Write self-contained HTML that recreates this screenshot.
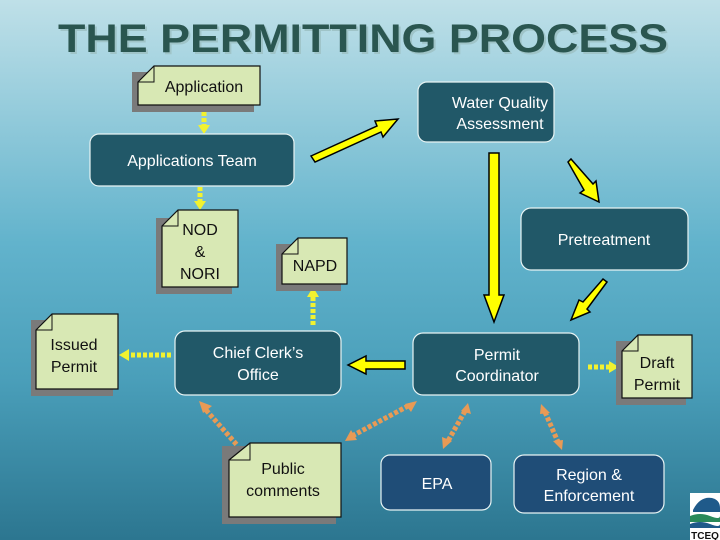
<!DOCTYPE html>
<html><head><style>
html,body{margin:0;padding:0;width:720px;height:540px;overflow:hidden}
svg{display:block}
text{font-family:"Liberation Sans",sans-serif}
</style></head><body>
<svg width="720" height="540" viewBox="0 0 720 540" xmlns="http://www.w3.org/2000/svg">
<defs>
<linearGradient id="bg" x1="0" y1="0" x2="0" y2="1">
<stop offset="0" stop-color="#bfe0e8"/>
<stop offset="0.45" stop-color="#62b3cc"/>
<stop offset="0.7" stop-color="#4a9fba"/>
<stop offset="1" stop-color="#2c7690"/>
</linearGradient>
</defs>
<rect width="720" height="540" fill="url(#bg)"/>
<text x="363" y="52" text-anchor="middle" font-size="40" font-weight="bold" fill="#9fc4c8" textLength="610" lengthAdjust="spacingAndGlyphs" transform="translate(2,2)">THE PERMITTING PROCESS</text>
<text x="363" y="52" text-anchor="middle" font-size="40" font-weight="bold" fill="#2a5650" textLength="610" lengthAdjust="spacingAndGlyphs">THE PERMITTING PROCESS</text>

<!-- yellow dotted connectors -->
<g stroke="#f2f230" stroke-width="5" stroke-dasharray="4,2" fill="none">
<line x1="204" y1="106" x2="204" y2="126"/>
<line x1="200" y1="187" x2="200" y2="202"/>
<line x1="313" y1="325" x2="313" y2="296"/>
<line x1="171" y1="355" x2="128" y2="355"/>
<line x1="588" y1="367" x2="610" y2="367"/>
</g>
<g fill="#f2f230">
<polygon points="198,125 210,125 204,134"/>
<polygon points="194,201 206,201 200,210"/>
<polygon points="307,297 319,297 313,287"/>
<polygon points="129,349 129,361 119,355"/>
<polygon points="609,361 609,373 619,367"/>
</g>

<!-- orange dotted double arrows -->
<g stroke="#e89a55" stroke-width="5" stroke-dasharray="4,2" fill="none">
<line x1="206" y1="410" x2="237" y2="445"/>
<line x1="352" y1="436" x2="408" y2="406"/>
<line x1="465" y1="411" x2="448" y2="441"/>
<line x1="545" y1="412" x2="558" y2="442"/>
</g>
<g fill="#e89a55">
<polygon points="199,401 212,406 203,413"/>
<polygon points="345,441 351,430 357,440"/>
<polygon points="417,401 411,412 405,404"/>
<polygon points="468,403 471,414 461,411"/>
<polygon points="443,449 442,437 452,441"/>
<polygon points="541,404 550,413 540,414"/>
<polygon points="562,450 553,441 563,440"/>
</g>

<!-- thick yellow arrows -->
<g fill="#ffff00" stroke="#000" stroke-width="1.5" stroke-linejoin="miter">
<polygon points="311,156 377,126 375,121 398,119 383,137 381,132 315,162"/>
<polygon points="489,153 499,153 499,295 504,295 494,322 484,295 489,295"/>
<polygon points="568,162 571,159 593,184 596,181 599,202 580,193 584,190"/>
<polygon points="607,282 603,279 583,302 579,300 571,320 590,312 587,309"/>
<polygon points="405,361 405,369 366,369 366,374 348,365 366,356 366,361"/>
</g>

<!-- rounded boxes -->
<g stroke="#e8f4f4" stroke-width="1.2">
<rect x="418" y="82" width="136" height="60" rx="9" fill="#215868"/>
<rect x="90" y="134" width="204" height="52" rx="9" fill="#215868"/>
<rect x="521" y="208" width="167" height="62" rx="10" fill="#215868"/>
<rect x="175" y="331" width="166" height="64" rx="10" fill="#215868"/>
<rect x="413" y="333" width="166" height="62" rx="10" fill="#215868"/>
<rect x="381" y="455" width="110" height="55" rx="9" fill="#1f4d77"/>
<rect x="514" y="455" width="150" height="58" rx="10" fill="#1f4d77"/>
</g>
<g fill="#fff" font-size="16" text-anchor="middle">
<text x="500" y="108">Water Quality</text>
<text x="500" y="129">Assessment</text>
<text x="192" y="166">Applications Team</text>
<text x="604" y="245">Pretreatment</text>
<text x="258" y="358">Chief Clerk’s</text>
<text x="258" y="380">Office</text>
<text x="497" y="360">Permit</text>
<text x="497" y="381">Coordinator</text>
<text x="437" y="489">EPA</text>
<text x="589" y="480">Region &amp;</text>
<text x="589" y="501">Enforcement</text>
</g>

<!-- notes: shadow then note -->
<g fill="#7a7a7a">
<rect x="132" y="72" width="122" height="40"/>
<rect x="156" y="218" width="76" height="76"/>
<rect x="276" y="244" width="65" height="47"/>
<rect x="31" y="320" width="82" height="76"/>
<rect x="616" y="341" width="70" height="64"/>
<rect x="222" y="446" width="114" height="78"/>
</g>
<g fill="#d8e8b4" stroke="#111" stroke-width="1.2">
<polygon points="138,82 154,66 260,66 260,105 138,105"/>
<polygon points="162,226 178,210 238,210 238,287 162,287"/>
<polygon points="282,254 298,238 347,238 347,284 282,284"/>
<polygon points="36,330 52,314 118,314 118,389 36,389"/>
<polygon points="622,351 638,335 692,335 692,398 622,398"/>
<polygon points="229,460 250,443 341,443 341,517 229,517"/>
</g>
<g fill="none" stroke="#111" stroke-width="1">
<polyline points="138,82 154,82 154,66"/>
<polyline points="162,226 178,226 178,210"/>
<polyline points="282,254 298,254 298,238"/>
<polyline points="36,330 52,330 52,314"/>
<polyline points="622,351 638,351 638,335"/>
<polyline points="229,460 250,460 250,443"/>
</g>
<g fill="#111" font-size="16" text-anchor="middle">
<text x="204" y="92">Application</text>
<text x="200" y="235">NOD</text>
<text x="200" y="257">&amp;</text>
<text x="200" y="279">NORI</text>
<text x="315" y="271">NAPD</text>
<text x="74" y="350">Issued</text>
<text x="74" y="372">Permit</text>
<text x="657" y="368">Draft</text>
<text x="657" y="390">Permit</text>
<text x="283" y="474">Public</text>
<text x="283" y="496">comments</text>
</g>

<!-- TCEQ logo -->
<rect x="690" y="493" width="30" height="47" fill="#fff"/>
<path d="M693,510 Q700,496 712,498 Q720,500 720,508 L720,512 L693,512 Z" fill="#1f5a8a"/>
<path d="M690,516 Q700,512 710,516 T720,516 L720,522 L690,522 Z" fill="#2a8a5a"/>
<path d="M690,524 Q700,520 710,524 T720,524 L720,528 L690,528 Z" fill="#1f5a8a"/>
<text x="705" y="539" text-anchor="middle" font-size="10" font-weight="bold" fill="#111">TCEQ</text>
</svg>
</body></html>
